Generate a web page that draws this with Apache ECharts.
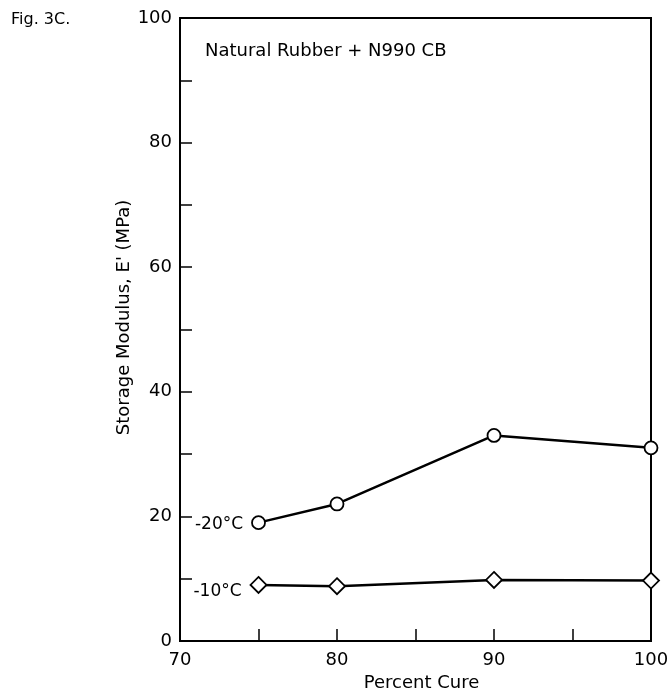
<!DOCTYPE html>
<html>
<head>
<meta charset="utf-8">
<title>Fig. 3C</title>
<script src="https://cdn.jsdelivr.net/npm/echarts@6/dist/echarts.min.js"></script>
<style>
html, body { margin: 0; padding: 0; background: #fff; }
#main { width: 668px; height: 691px; }
</style>
</head>
<body>
<div id="main"></div>
<script>
// percent cure (x)
var cure = [75, 80, 90, 100];
// storage modulus E' (MPa)
var minus20 = [19, 22, 33, 31];
var minus10 = [9, 8.8, 9.8, 9.7];
var seriesNames = ['-20°C', '-10°C'];

var font = 'DejaVu Sans';
var chart = echarts.init(document.getElementById('main'));

function pairs(ys) {
  return cure.map(function (x, i) { return [x, ys[i]]; });
}

function makeSeries(name, ys, symbol, size, labelOffset) {
  var data = pairs(ys);
  data[0] = {
    value: data[0],
    label: {
      show: true, position: 'left', distance: 8, offset: labelOffset,
      formatter: name, color: '#000', fontSize: 17, fontFamily: font
    }
  };
  return {
    name: name,
    type: 'line',
    data: data,
    symbol: symbol,
    symbolSize: size,
    showAllSymbol: true,
    lineStyle: { color: '#000', width: 2.5 },
    itemStyle: { color: '#fff', borderColor: '#000', borderWidth: 1.8 },
    z: 3,
    animation: false
  };
}

chart.setOption({
  backgroundColor: '#fff',
  grid: {
    left: 180, top: 18, right: 17, bottom: 50,
    outerBoundsMode: 'none', containLabel: false,
    show: true, borderColor: '#000', borderWidth: 2
  },
  graphic: [
    { type: 'text', left: 11, top: 12,
      style: { text: 'Fig. 3C.', fontSize: 16, fontFamily: font, fill: '#000' } },
    { type: 'text', left: 205, top: 42,
      style: { text: 'Natural Rubber + N990 CB', fontSize: 18, fontFamily: font, fill: '#000' } }
  ],
  xAxis: {
    type: 'value', min: 70, max: 100, interval: 5,
    name: 'Percent Cure', nameLocation: 'middle', nameGap: 33,
    nameMoveOverlap: false,
    nameTextStyle: { fontSize: 18, fontFamily: font, color: '#000', padding: [0, 0, 0, 12] },
    axisLine: { lineStyle: { color: '#000', width: 2 } },
    axisTick: { inside: true, length: 12, lineStyle: { color: '#000', width: 1.5 } },
    axisLabel: {
      margin: 10, fontSize: 18, fontFamily: font, color: '#000',
      formatter: function (v) { return v % 10 === 0 ? String(v) : ''; }
    },
    splitLine: { show: false }
  },
  yAxis: {
    type: 'value', min: 0, max: 100, interval: 10,
    name: "Storage Modulus, E' (MPa)", nameLocation: 'middle', nameGap: 47,
    nameMoveOverlap: false,
    nameTextStyle: { fontSize: 18, fontFamily: font, color: '#000', padding: [0, 0, 0, 24] },
    axisLine: { lineStyle: { color: '#000', width: 2 } },
    axisTick: { inside: true, length: 12, lineStyle: { color: '#000', width: 1.5 } },
    axisLabel: {
      margin: 8, fontSize: 18, fontFamily: font, color: '#000',
      formatter: function (v) { return v % 20 === 0 ? String(v) : ''; }
    },
    splitLine: { show: false }
  },
  series: [
    makeSeries(seriesNames[0], minus20, 'circle', 13, [0, 2]),
    makeSeries(seriesNames[1], minus10, 'diamond', 16, [0, 7])
  ]
});
</script>
</body>
</html>
